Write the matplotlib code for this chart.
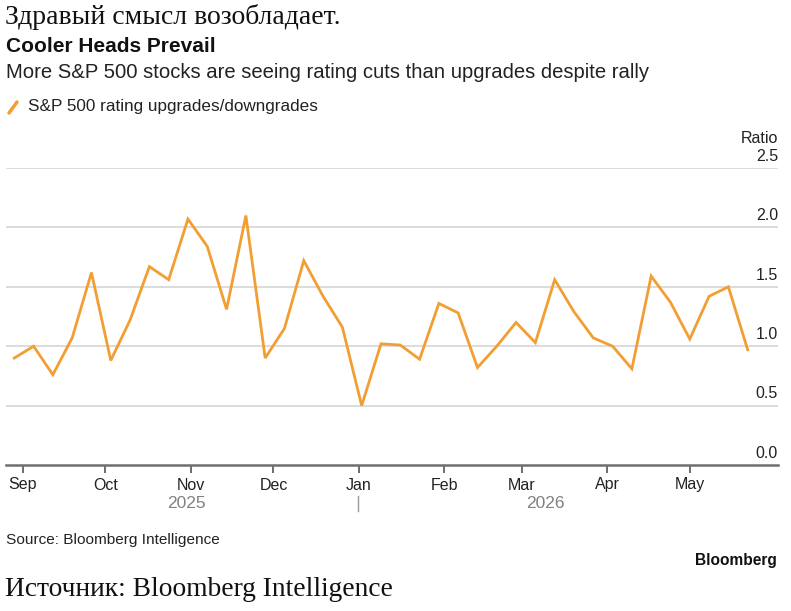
import matplotlib
matplotlib.use("Agg")
import matplotlib.pyplot as plt
import matplotlib.dates as mdates
import matplotlib.transforms as mtransforms
import datetime as dt

# Data: weekly ratio of S&P 500 rating upgrades/downgrades
start_date = dt.date(2025, 8, 29)
ratios = [0.90, 1.00, 0.76, 1.07, 1.62, 0.88, 1.22, 1.67, 1.56, 2.07,
          1.84, 1.31, 2.10, 0.90, 1.15, 1.72, 1.42, 1.16, 0.50, 1.02,
          1.01, 0.89, 1.36, 1.28, 0.82, 1.00, 1.20, 1.03, 1.56, 1.29,
          1.07, 1.00, 0.81, 1.59, 1.37, 1.06, 1.42, 1.50, 0.97]
dates = [start_date + dt.timedelta(days=7 * i) for i in range(len(ratios))]

month_ticks = [dt.date(2025, 9, 1), dt.date(2025, 10, 1), dt.date(2025, 11, 1),
               dt.date(2025, 12, 1), dt.date(2026, 1, 1), dt.date(2026, 2, 1),
               dt.date(2026, 3, 1), dt.date(2026, 4, 1), dt.date(2026, 5, 1)]
month_labels = ["Sep", "Oct", "Nov", "Dec", "Jan", "Feb", "Mar", "Apr", "May"]
y_ticks = [0.0, 0.5, 1.0, 1.5, 2.0, 2.5]
y_labels = ["0.0", "0.5", "1.0", "1.5", "2.0", "2.5"]

ORANGE = "#F29E32"
W, H = 791, 611
fig = plt.figure(figsize=(W / 100, H / 100), dpi=100)
sans = ["Liberation Sans", "DejaVu Sans"]
serif = ["Liberation Serif", "DejaVu Serif"]

left, right, top, bottom = 6, 778, 168, 465
ax = fig.add_axes([left / W, 1 - bottom / H, (right - left) / W, (bottom - top) / H])

ax.set_ylim(0, 2.5)
xmin = mdates.date2num(dt.date(2025, 8, 26))
xmax = mdates.date2num(dt.date(2026, 6, 2))
ax.set_xlim(xmin, xmax)

for yv in y_ticks[1:]:
    ax.axhline(yv, color="#d9d9d9", lw=1.3, zorder=1)
ax.plot(mdates.date2num(dates), ratios, color=ORANGE, lw=2.0, zorder=3,
        solid_joinstyle="miter")

for s in ["top", "right", "left"]:
    ax.spines[s].set_visible(False)
ax.spines["bottom"].set_color("#707070")
ax.spines["bottom"].set_linewidth(1.8)
ax.set_yticks([])
ax.set_xticks(mdates.date2num(month_ticks))
ax.set_xticklabels(month_labels, fontfamily=sans, fontsize=11.5, color="#222222")
ax.tick_params(axis="x", length=6, width=1.2, color="#555555", pad=3)

# y labels inside right edge, above gridlines
off = mtransforms.offset_copy(ax.get_yaxis_transform(), fig=fig, x=0, y=3, units="points")
for yv, lab in zip(y_ticks, y_labels):
    ax.text(1.0, yv, lab, transform=off, ha="right", va="bottom",
            fontsize=11.5, family=sans, color="#222222")
off2 = mtransforms.offset_copy(ax.get_yaxis_transform(), fig=fig, x=0, y=16, units="points")
ax.text(1.0, 2.5, "Ratio", transform=off2, ha="right",
        va="bottom", fontsize=11.5, family=sans, color="#222222", clip_on=False)

def fx(px):
    return px / W
def fy(py):
    return 1 - py / H

# year labels
fig.text(fx(186), fy(503), "2025", ha="center", va="center", fontsize=12.5,
         family=sans, color="#808080")
fig.text(fx(545), fy(503), "2026", ha="center", va="center", fontsize=12.5,
         family=sans, color="#808080")
fig.add_artist(plt.Line2D([fx(358), fx(358)], [fy(496), fy(511)], color="#999999", lw=1))

# titles
fig.text(fx(5), fy(17), "Здравый смысл возобладает.", ha="left", va="center",
         fontsize=20, family=serif, color="#111111")
fig.text(fx(6), fy(47), "Cooler Heads Prevail", ha="left", va="center",
         fontsize=15, family=sans, weight="bold", color="#111111")
fig.text(fx(6), fy(73), "More S&P 500 stocks are seeing rating cuts than upgrades despite rally",
         ha="left", va="center", fontsize=14.6, family=sans, color="#222222")
fig.add_artist(plt.Line2D([fx(9), fx(17)], [fy(113), fy(102)], color=ORANGE, lw=2.5,
                          solid_capstyle="round"))
fig.text(fx(28), fy(107), "S&P 500 rating upgrades/downgrades", ha="left", va="center",
         fontsize=12.3, family=sans, color="#222222")

fig.text(fx(6), fy(540), "Source: Bloomberg Intelligence", ha="left", va="center",
         fontsize=11.1, family=sans, color="#222222")
fig.text(fx(777), fy(561), "Bloomberg", ha="right", va="center",
         fontsize=11.2, family=sans, weight="bold", color="#111111")
fig.text(fx(5), fy(589), "Источник: Bloomberg Intelligence", ha="left", va="center",
         fontsize=19.8, family=serif, color="#111111")

fig.savefig("out.png", dpi=100)
